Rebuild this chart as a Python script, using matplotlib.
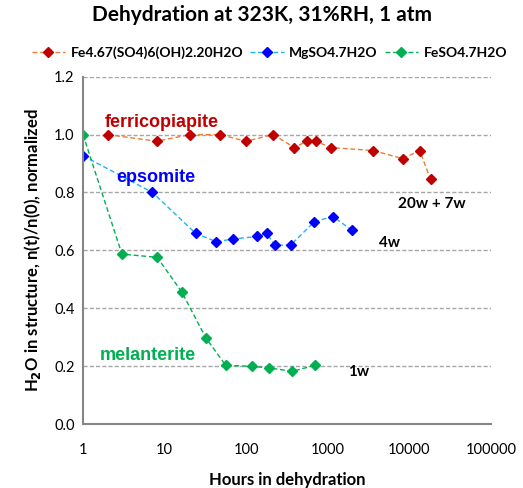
import matplotlib
matplotlib.use('Agg')
import matplotlib.pyplot as plt

plt.rcParams['font.family'] = ['Lato', 'DejaVu Sans']

# Fe4.67(SO4)6(OH)2.20H2O (ferricopiapite)
ferri_hours = [2, 8, 20.5, 48, 99, 215, 390, 550, 715, 1090, 3600, 8300, 13400, 18200]
ferri_vals = [1.0, 0.977, 1.0, 1.0, 0.977, 1.0, 0.955, 0.977, 0.977, 0.955, 0.945, 0.917, 0.945, 0.845]

# MgSO4.7H2O (epsomite)
epso_hours = [1, 7.1, 24, 43, 68, 136, 178, 225, 350, 685, 1150, 2000]
epso_vals = [0.927, 0.80, 0.659, 0.63, 0.639, 0.648, 0.659, 0.618, 0.618, 0.699, 0.717, 0.669]

# FeSO4.7H2O (melanterite)
mel_hours = [1, 3.0, 8.1, 16.2, 32, 56, 119, 190, 367, 703]
mel_vals = [1.0, 0.587, 0.576, 0.457, 0.298, 0.203, 0.199, 0.194, 0.182, 0.203]

series_labels = ['Fe4.67(SO4)6(OH)2.20H2O', 'MgSO4.7H2O', 'FeSO4.7H2O']

fig = plt.figure(figsize=(5.23, 4.88), dpi=100)
ax = fig.add_axes([0.1587, 0.1311, 0.78, 0.7117])

l1, = ax.plot(ferri_hours, ferri_vals, linestyle=(0, (3.5, 2)), color='#ED7D31', lw=1,
              marker='D', ms=5.5, mfc='#C00000', mec='#C00000', label=series_labels[0])
l2, = ax.plot(epso_hours, epso_vals, linestyle=(0, (3.5, 2)), color='#1EB4F0', lw=1,
              marker='D', ms=5.5, mfc='#0000FF', mec='#0000FF', label=series_labels[1])
l3, = ax.plot(mel_hours, mel_vals, linestyle=(0, (3.5, 2)), color='#00B050', lw=1,
              marker='D', ms=5.5, mfc='#00B050', mec='#00B050', label=series_labels[2])

ax.set_xscale('log')
ax.set_xlim(1, 100000)
ax.set_ylim(0, 1.2)
ax.set_xticks([1, 10, 100, 1000, 10000, 100000])
ax.set_xticklabels(['1', '10', '100', '1000', '10000', '100000'])
ax.minorticks_off()
ax.set_yticks([0, 0.2, 0.4, 0.6, 0.8, 1.0, 1.2])
ax.set_yticklabels(['0.0', '0.2', '0.4', '0.6', '0.8', '1.0', '1.2'])
ax.tick_params(length=0, labelsize=10.5, pad=6)
ax.tick_params(axis='x', pad=14)
ax.grid(axis='y', linestyle=(0, (3, 1.5)), color='#A6A6A6', lw=1)
ax.set_axisbelow(True)
for s in ['top', 'right']:
    ax.spines[s].set_visible(False)
for s in ['left', 'bottom']:
    ax.spines[s].set_color('#868686')
    ax.spines[s].set_linewidth(1.5)

ax.set_xlabel('Hours in dehydration', fontsize=12, fontweight='bold')
ax.xaxis.set_label_coords(0.5, -0.138)
ax.set_ylabel('H$_\\mathbf{2}$O in structure, n(t)/n(0), normalized', fontsize=12,
              fontweight='bold', labelpad=8)

narrow = ['Liberation Sans Narrow', 'Liberation Sans', 'DejaVu Sans']
ax.text(1.85, 1.025, 'ferricopiapite', color='#C00000', fontsize=13, fontweight='bold', family=narrow)
ax.text(2.55, 0.835, 'epsomite', color='#0000FF', fontsize=13, fontweight='bold', family=narrow)
ax.text(1.6, 0.22, 'melanterite', color='#00B050', fontsize=13, fontweight='bold', family=narrow)
ax.text(7200, 0.745, '20w + 7w', fontsize=11, fontweight='bold')
ax.text(4300, 0.61, '4w', fontsize=11, fontweight='bold')
ax.text(1750, 0.165, '1w', fontsize=11, fontweight='bold')

fig.suptitle('Dehydration at 323K, 31%RH, 1 atm', x=0.5, y=0.99, fontsize=15, fontweight='bold')
fig.legend(handles=[l1, l2, l3], loc='center', bbox_to_anchor=(0.515, 0.892), ncol=3,
           frameon=False, prop={'weight': 'bold', 'size': 10},
           handlelength=2.4, handletextpad=0.4, columnspacing=0.5, borderaxespad=0)

fig.savefig('out.png', dpi=100)
